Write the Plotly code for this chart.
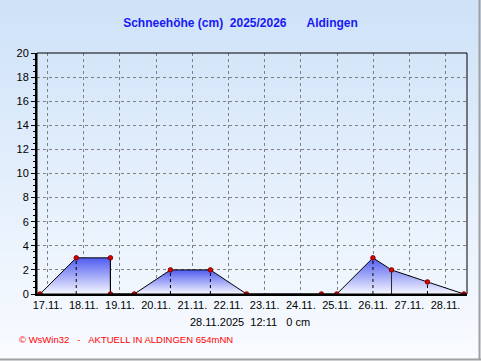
import base64, struct, zlib
import plotly.graph_objects as go

# ---- data ----
times = ["2025-11-16 19:00", "2025-11-17 19:00", "2025-11-18 17:40", "2025-11-18 17:40",
         "2025-11-19 09:30", "2025-11-20 09:30", "2025-11-21 12:00", "2025-11-22 12:00",
         "2025-11-24 13:40", "2025-11-24 23:50", "2025-11-25 23:50", "2025-11-26 12:10",
         "2025-11-27 12:00", "2025-11-28 12:11"]
snow_cm = [0, 3, 3, 0, 0, 2, 2, 0, 0, 0, 3, 2, 1, 0]
humps = [(0, 3), (4, 7), (9, 13)]          # index ranges of filled areas
drop_dotted = [1, 5, 6, 10, 12]             # indices with dotted drop lines
drop_solid = [2, 11]                        # indices with solid drop lines

title_text = "Schneehöhe (cm)\u00a0\u00a02025/2026\u00a0\u00a0\u00a0\u00a0\u00a0\u00a0Aldingen"
status_text = "28.11.2025\u00a0\u00a012:11\u00a0\u00a0\u00a00 cm"
footer_text = "© WsWin32\u00a0\u00a0\u00a0-\u00a0\u00a0\u00a0AKTUELL IN ALDINGEN 654mNN"

W, H = 481, 361
L, R, T, B = 37, 14, 53, 67
PW, PH = W - L - R, H - T - B


def px(x):
    return (x - L) / PW


def py(y):
    return (H - B - y) / PH


def gradient_png(h, top, bot):
    raw = b""
    for i in range(h):
        f = i / (h - 1)
        c = bytes(int(round(top[k] + (bot[k] - top[k]) * f)) for k in range(3))
        raw += b"\x00" + c
    def chunk(t, d):
        return struct.pack(">I", len(d)) + t + d + struct.pack(">I", zlib.crc32(t + d) & 0xffffffff)
    png = b"\x89PNG\r\n\x1a\n" + chunk(b"IHDR", struct.pack(">IIBBBBB", 1, h, 8, 2, 0, 0, 0))
    png += chunk(b"IDAT", zlib.compress(raw)) + chunk(b"IEND", b"")
    return "data:image/png;base64," + base64.b64encode(png).decode()


fig = go.Figure()

# filled humps with vertical gradient
for a, b in humps:
    fig.add_trace(go.Scatter(
        x=times[a:b + 1], y=snow_cm[a:b + 1], mode="lines", fill="tozeroy",
        line=dict(width=0, color="rgba(0,0,0,0)"),
        fillgradient=dict(type="vertical",
                          colorscale=[[0, "rgb(246,247,255)"], [1, "rgb(80,92,240)"]]),
        hoverinfo="skip", showlegend=False))

# drop lines
for idx_list, dash, col in [(drop_dotted, "dot", "black"), (drop_solid, "solid", "rgb(40,40,40)")]:
    xs, ys = [], []
    for i in idx_list:
        xs += [times[i], times[i], None]
        ys += [0, snow_cm[i], None]
    fig.add_trace(go.Scatter(x=xs, y=ys, mode="lines",
                             line=dict(color=col, width=1, dash=dash),
                             hoverinfo="skip", showlegend=False))

# main line with markers
fig.add_trace(go.Scatter(
    x=times, y=snow_cm, mode="lines+markers",
    line=dict(color="black", width=1),
    marker=dict(color="rgb(230,0,0)", size=4.5, line=dict(color="rgb(120,0,0)", width=1)),
    showlegend=False))

fig.update_layout(
    width=W, height=H,
    margin=dict(l=L, r=R, t=T, b=B),
    paper_bgcolor="rgb(228,238,250)",
    plot_bgcolor="rgba(0,0,0,0)",
    font=dict(family="Liberation Sans, Arial, sans-serif", size=11, color="black"),
    title=dict(text=title_text, x=0.5, xref="container", xanchor="center",
               y=1 - 23 / H, yanchor="middle",
               font=dict(family="Liberation Sans, Arial, sans-serif", size=12,
                         color="rgb(25,25,245)", weight="bold")),
    xaxis=dict(type="date",
               range=["2025-11-16 16:58", "2025-11-28 14:14"],
               tick0="2025-11-17", dtick=86400000, tickformat="%d.%m.",
               showgrid=True, gridcolor="rgb(128,128,128)", griddash="3px,3px", gridwidth=1,
               showline=True, linecolor="black", linewidth=2,
               ticks="", layer="below traces", zeroline=False,
               tickfont=dict(size=11, color="black")),
    yaxis=dict(range=[0, 20], dtick=2, tick0=0,
               showgrid=True, gridcolor="rgb(128,128,128)", griddash="3px,3px", gridwidth=1,
               showline=True, linecolor="black", linewidth=2,
               ticks="outside", ticklen=4, tickcolor="black",
               minor=dict(ticks="outside", ticklen=2, dtick=0.5, tickcolor="black", showgrid=False),
               zeroline=False, layer="below traces",
               tickfont=dict(size=11, color="black")),
    images=[dict(source=gradient_png(H, (206, 226, 248), (249, 251, 255)),
                 xref="paper", yref="paper", x=px(0), y=py(0),
                 sizex=W / PW, sizey=H / PH, sizing="stretch",
                 xanchor="left", yanchor="top", layer="below")],
    shapes=[
        dict(type="rect", xref="paper", yref="paper", x0=0, x1=1, y0=0, y1=1,
             line=dict(color="black", width=1), layer="above"),
        dict(type="line", xref="paper", yref="paper", x0=px(479.5), x1=px(479.5),
             y0=py(0), y1=py(360), line=dict(color="rgb(160,160,160)", width=2)),
        dict(type="line", xref="paper", yref="paper", x0=px(0), x1=px(481),
             y0=py(359.5), y1=py(359.5), line=dict(color="rgb(160,160,160)", width=2)),
    ],
    annotations=[
        dict(text=status_text, xref="paper", yref="paper", x=px(250), y=py(322),
             xanchor="center", yanchor="middle", showarrow=False,
             font=dict(size=11, color="black")),
        dict(text=footer_text, xref="paper", yref="paper", x=px(17), y=py(339),
             xanchor="left", yanchor="middle", showarrow=False,
             font=dict(size=9.5, color="rgb(255,0,0)")),
    ],
)

fig.write_html("out.html")
